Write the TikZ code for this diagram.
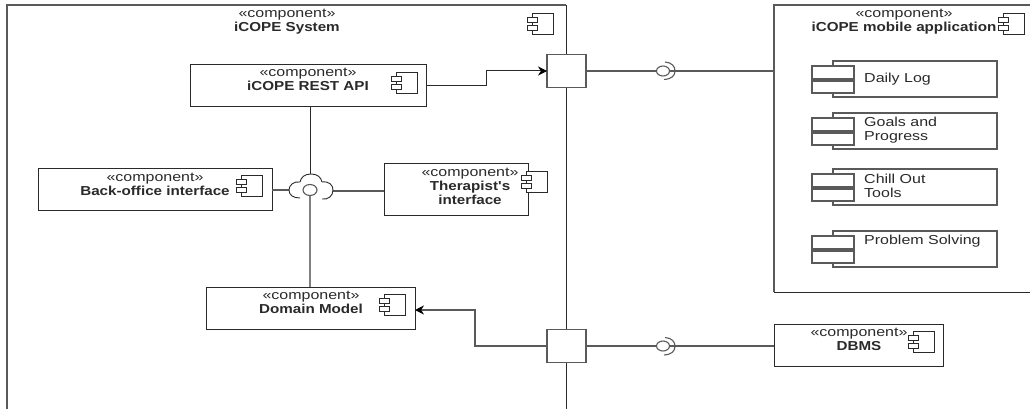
\documentclass[tikz,border=0pt]{standalone}
\usepackage{fontspec}
\usepackage{graphicx}
\setmainfont{Liberation Sans}
\usetikzlibrary{arrows.meta,shapes.geometric}
\definecolor{ink}{HTML}{2A2A2A}
\definecolor{midline}{HTML}{5A5A5A}
\definecolor{paleline}{HTML}{808080}
\newcommand{\widec}[1]{\scalebox{1.23}[1]{\begin{tabular}{@{}c@{}}#1\end{tabular}}}
\newcommand{\widel}[1]{\scalebox{1.23}[1]{\begin{tabular}{@{}l@{}}#1\end{tabular}}}
\newcommand{\bt}[1]{\scalebox{.95}[1]{\textbf{#1}}}
\tikzset{
  x=1pt,y=-1pt,
  compbox/.style={draw=ink,line width=1pt,fill=white,inner sep=0pt,outer sep=0pt,anchor=north west},
  compicon/.style={draw=ink,line width=.9pt,fill=white,inner sep=0pt,outer sep=0pt},
  label text/.style={text=ink,inner sep=0pt,font=\fontsize{13}{14.2}\selectfont},
  part text/.style={text=ink,inner sep=0pt,anchor=west,font=\fontsize{13}{14.2}\selectfont},
  wire/.style={draw=ink,line width=1pt},
  wiregrey/.style={draw=midline,line width=1.1pt},
  wirepale/.style={draw=paleline,line width=2.2pt},
  arrowed/.style={-{Stealth[length=9pt,width=9pt,black]}},
  portbox/.style={draw=midline,line width=1.3pt,fill=white,inner sep=0pt,outer sep=0pt,minimum width=39pt,minimum height=33pt},
  ball/.style={ellipse,draw=midline,line width=1.1pt,fill=white,inner sep=0pt,outer sep=0pt},
}
\newcommand{\iconat}[2]{%
  \draw[compicon] (#1+5,#2) rectangle (#1+26,#2+21);
  \draw[compicon] (#1,#2+4) rectangle (#1+10,#2+9);
  \draw[compicon] (#1,#2+12) rectangle (#1+10,#2+17);
}
\newcommand{\partat}[1]{%
  \draw[draw=midline,line width=1.1pt] (833,#1+5) -- (833,#1) -- (997,#1) -- (997,#1+36) -- (833,#1+36) -- (833,#1+32);
  \draw[draw=midline,line width=1.1pt] (812,#1+5) rectangle (854,#1+18);
  \draw[draw=midline,line width=1.1pt] (812,#1+20) rectangle (854,#1+32);
  \draw[draw=midline,line width=2pt] (812,#1+19) -- (854,#1+19);
}
\begin{document}
\begin{tikzpicture}
\useasboundingbox (0,0) rectangle (1030,409);
\fill[white] (0,0) rectangle (1030,409);
% outer frames
\draw[draw=midline,line width=1.2pt] (7,409) -- (7,5) -- (566,5);
\draw[draw=ink,line width=1pt] (566,5) -- (566,409);
\draw[draw=midline,line width=1.2pt] (1030,5) -- (774,5) -- (774,292);
\draw[draw=ink,line width=1pt] (774,292) -- (1030,292);
% boxes
\node[compbox,minimum width=236pt,minimum height=42pt] (api) at (190,65) {};
\node[compbox,minimum width=234pt,minimum height=42pt] (back) at (38,168) {};
\node[compbox,minimum width=144pt,minimum height=52pt] (ther) at (384,163) {};
\node[compbox,minimum width=209pt,minimum height=42pt] (domain) at (206,287) {};
\node[compbox,minimum width=169pt,minimum height=42pt] (dbms) at (774,324) {};
% ports
\node[portbox] (portA) at (566.5,71) {};
\node[portbox] (portB) at (566.5,346) {};
% hubs
\coordinate (cloudTop) at (310,174);
\coordinate (cloudLeft) at (289,190);
\coordinate (cloudRight) at (333,191);
\node[ball,minimum width=14pt,minimum height=11pt] (hub) at (310,190) {};
\coordinate (bendA) at (486,86);
\coordinate (bendAb) at (486,71);
\coordinate (bendB) at (475,346);
\coordinate (bendBb) at (475,310);
\coordinate (apiOut) at (426,86);
\coordinate (domainIn) at (415,310);
\coordinate (mobileIn) at (774,71);
\coordinate (dbmsIn) at (774,346);
\coordinate (apiDown) at (310,107);
\coordinate (domainUp) at (310,287);
\coordinate (backOut) at (272,190);
\coordinate (therIn) at (384,191);
% connectors
\draw[wire] (apiDown) -- (cloudTop);
\draw[wirepale] (hub.south) -- (domainUp);
\draw[wiregrey] (backOut) -- (cloudLeft);
\draw[wiregrey] (cloudRight) -- (therIn);
\draw[wire,arrowed] (apiOut) -- (bendA) -- (bendAb) -- (portA.west);
\draw[wiregrey,arrowed,line width=1.4pt] (portB.west) -- (bendB) -- (bendBb) -- (domainIn);
% cloud
\draw[draw=ink,line width=.9pt] (300,198) .. controls (293,198) and (289,195) .. (289,190) .. controls (289,185) and (294,181) .. (300,182);
\draw[draw=ink,line width=.9pt] (300,182) .. controls (301,177) and (305,174) .. (311,174) .. controls (317,174) and (321,177) .. (322,182);
\draw[draw=ink,line width=.9pt] (322,182) .. controls (329,181) and (333,185) .. (333,190) .. controls (333,196) and (328,200) .. (322,199);
% lollipops
\node[ball,minimum width=13pt,minimum height=10pt] (ballA) at (663,71) {};
\node[ball,minimum width=13pt,minimum height=10pt] (ballB) at (663,346) {};
\draw[wiregrey] (portA.east) -- (ballA.west);
\draw[wiregrey] (ballA.east) -- (mobileIn);
\draw[wiregrey] (portB.east) -- (ballB.west);
\draw[wiregrey] (ballB.east) -- (dbmsIn);
\draw[draw=midline,line width=1.1pt] (665,62) .. controls (672,62.5) and (675,66.5) .. (675,71) .. controls (675,75.5) and (672,79) .. (664,79.5);
\draw[draw=midline,line width=1.1pt] (665,337.5) .. controls (672,338) and (675,342) .. (675,346) .. controls (675,351) and (672,354.5) .. (664,355);
% icons
\iconat{527}{13}
\iconat{391}{72}
\iconat{236}{175}
\iconat{521}{171}
\iconat{379}{294}
\iconat{998}{13}
\iconat{908}{331}
% labels
\node[label text] (t0) at (287,22) {\widec{«component»\\\bt{iCOPE System}}};
\node[label text] (t1) at (308,81) {\widec{«component»\\\bt{iCOPE REST API}}};
\node[label text] (t2) at (155,186) {\widec{«component»\\\bt{Back-office interface}}};
\node[label text] (t3) at (470,187.5) {\widec{«component»\\\bt{Therapist\textquotesingle s}\\\bt{interface}}};
\node[label text] (t4) at (311,304) {\widec{«component»\\\bt{Domain Model}}};
\node[label text] (t5) at (904,22) {\widec{«component»\\\bt{iCOPE mobile application}}};
\node[label text] (t6) at (859,341) {\widec{«component»\\\bt{DBMS}}};
% parts
\partat{61}
\partat{113}
\partat{169}
\partat{231}
\node[part text] (p1) at (864,80) {\widel{Daily Log}};
\node[part text] (p2) at (864,131) {\widel{Goals and\\Progress}};
\node[part text] (p3) at (864,188) {\widel{Chill Out\\Tools}};
\node[part text] (p4) at (864,242) {\widel{Problem Solving}};
\end{tikzpicture}
\end{document}
